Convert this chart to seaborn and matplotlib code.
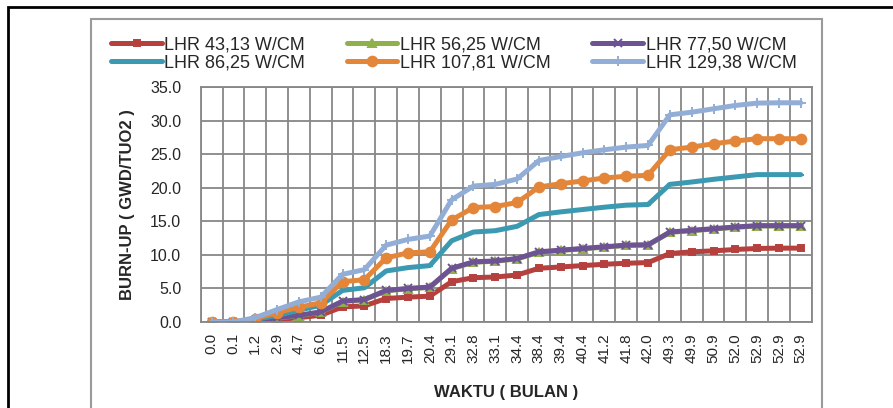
import numpy as np
import pandas as pd
import matplotlib
matplotlib.use("Agg")
import matplotlib.pyplot as plt
import seaborn as sns
from matplotlib.patches import Rectangle

# time labels (months)
waktu = ["0.0", "0.1", "1.2", "2.9", "4.7", "6.0", "11.5", "12.5", "18.3", "19.7",
         "20.4", "29.1", "32.8", "33.1", "34.4", "38.4", "39.4", "40.4", "41.2", "41.8",
         "42.0", "49.3", "49.9", "50.9", "52.0", "52.9", "52.9", "52.9"]

lhr_43 = [0.0, 0.0, 0.15, 0.35, 0.65, 1.0, 2.25, 2.4, 3.5, 3.7,
          3.85, 6.0, 6.6, 6.7, 7.0, 8.0, 8.2, 8.4, 8.6, 8.75,
          8.85, 10.2, 10.45, 10.6, 10.8, 10.95, 11.0, 11.0]
lhr_56 = [0.0, 0.0, 0.15, 0.6, 0.95, 1.45, 3.05, 3.3, 4.65, 4.95,
          5.15, 7.95, 8.9, 9.05, 9.4, 10.4, 10.65, 10.9, 11.15, 11.4,
          11.45, 13.35, 13.6, 13.85, 14.1, 14.3, 14.3, 14.3]
lhr_77 = [0.0, 0.0, 0.15, 0.65, 1.0, 1.5, 3.1, 3.35, 4.7, 5.0,
          5.2, 8.0, 8.95, 9.1, 9.45, 10.45, 10.7, 10.95, 11.2, 11.45,
          11.5, 13.4, 13.65, 13.9, 14.15, 14.35, 14.35, 14.35]
lhr_86 = [0.0, 0.0, 0.35, 1.0, 1.75, 2.5, 4.7, 5.1, 7.6, 8.1,
          8.4, 12.1, 13.4, 13.6, 14.25, 16.0, 16.4, 16.75, 17.1, 17.4,
          17.5, 20.5, 20.85, 21.25, 21.6, 21.95, 21.95, 21.95]
lhr_107 = [0.0, 0.0, 0.5, 1.4, 2.2, 2.85, 6.0, 6.3, 9.55, 10.3,
           10.45, 15.2, 17.05, 17.2, 17.8, 20.1, 20.6, 21.0, 21.45, 21.7,
           21.85, 25.65, 26.05, 26.55, 26.95, 27.3, 27.3, 27.3]
lhr_129 = [0.0, 0.0, 0.65, 1.85, 3.0, 3.7, 7.1, 7.8, 11.45, 12.3,
           12.8, 18.2, 20.25, 20.5, 21.3, 24.05, 24.65, 25.2, 25.65, 26.05,
           26.3, 30.85, 31.25, 31.75, 32.25, 32.6, 32.65, 32.65]

series = [
    ("LHR 43,13 W/CM", lhr_43, "#B5403D", "s", 4.5),
    ("LHR 56,25 W/CM", lhr_56, "#8FB04A", "^", 5.5),
    ("LHR 77,50 W/CM", lhr_77, "#6E5394", "x", 6),
    ("LHR 86,25 W/CM", lhr_86, "#3B9AB2", "_", 4),
    ("LHR 107,81 W/CM", lhr_107, "#E4863A", "o", 7),
    ("LHR 129,38 W/CM", lhr_129, "#93AED6", "+", 7),
]

sns.set_style("white")
plt.rcParams['font.family'] = ['Liberation Sans', 'DejaVu Sans']

fig = plt.figure(figsize=(8.93, 4.08), dpi=100)
ax = fig.add_axes([200.7 / 893, 1 - 322 / 408, 611 / 893, 235 / 408])

pos = np.arange(len(waktu))
for name, vals, col, mk, ms in series:
    sns.lineplot(x=pos, y=vals, ax=ax, color=col, lw=3.6, marker=mk, markersize=ms,
                 markeredgecolor=col, markeredgewidth=1.4, label=name)
handles, labels = ax.get_legend_handles_labels()
ax.get_legend().remove()

ax.set_xlim(-0.5, len(waktu) - 0.5)
ax.set_ylim(0, 35)
ax.set_yticks(np.arange(0, 36, 5))
ax.set_yticklabels([f"{v:.1f}" for v in np.arange(0, 36, 5)], fontsize=11.5)
ax.set_xticks(pos)
ax.set_xticklabels(waktu, rotation=90, fontsize=11)
ax.set_xticks(np.arange(-0.5, len(waktu), 1), minor=True)
ax.tick_params(axis='x', which='major', length=0, pad=8)
ax.tick_params(axis='x', which='minor', length=4, color="#808080", direction='out')
ax.tick_params(axis='y', length=0, pad=14)
ax.grid(False)
ax.grid(True, axis='y', which='major', color="#878787", lw=1.3)
ax.grid(True, axis='x', which='minor', color="#878787", lw=1.3)
ax.set_axisbelow(True)
for s in ax.spines.values():
    s.set_color("#878787")
    s.set_linewidth(1.3)

ax.set_xlabel("WAKTU ( BULAN )", fontsize=12, fontweight='bold', labelpad=16)
ax.set_ylabel("BURN-UP ( GWD/TUO2 )", fontsize=12, fontweight='bold', labelpad=11)

# legend in row order (3 per row)
order = [0, 3, 1, 4, 2, 5]
fig.legend([handles[i] for i in order], [labels[i] for i in order], ncol=3,
           loc='upper left', bbox_to_anchor=(104 / 893, 1 - 29 / 408), frameon=False,
           fontsize=13, handlelength=2.8, handletextpad=0.15, columnspacing=2.3,
           labelspacing=0.05, borderaxespad=0)

# chart area borders
fig.patches.append(Rectangle((91 / 893, -0.02), (822 - 91) / 893, 1 - 19 / 408 + 0.02,
                             transform=fig.transFigure, fill=False, ec="#9A9A9A", lw=1.5))
fig.patches.append(Rectangle((8 / 893, -0.05), 1.0, 1 - 7 / 408 + 0.05,
                             transform=fig.transFigure, fill=False, ec="black", lw=2))

fig.savefig("out.png", dpi=100)
